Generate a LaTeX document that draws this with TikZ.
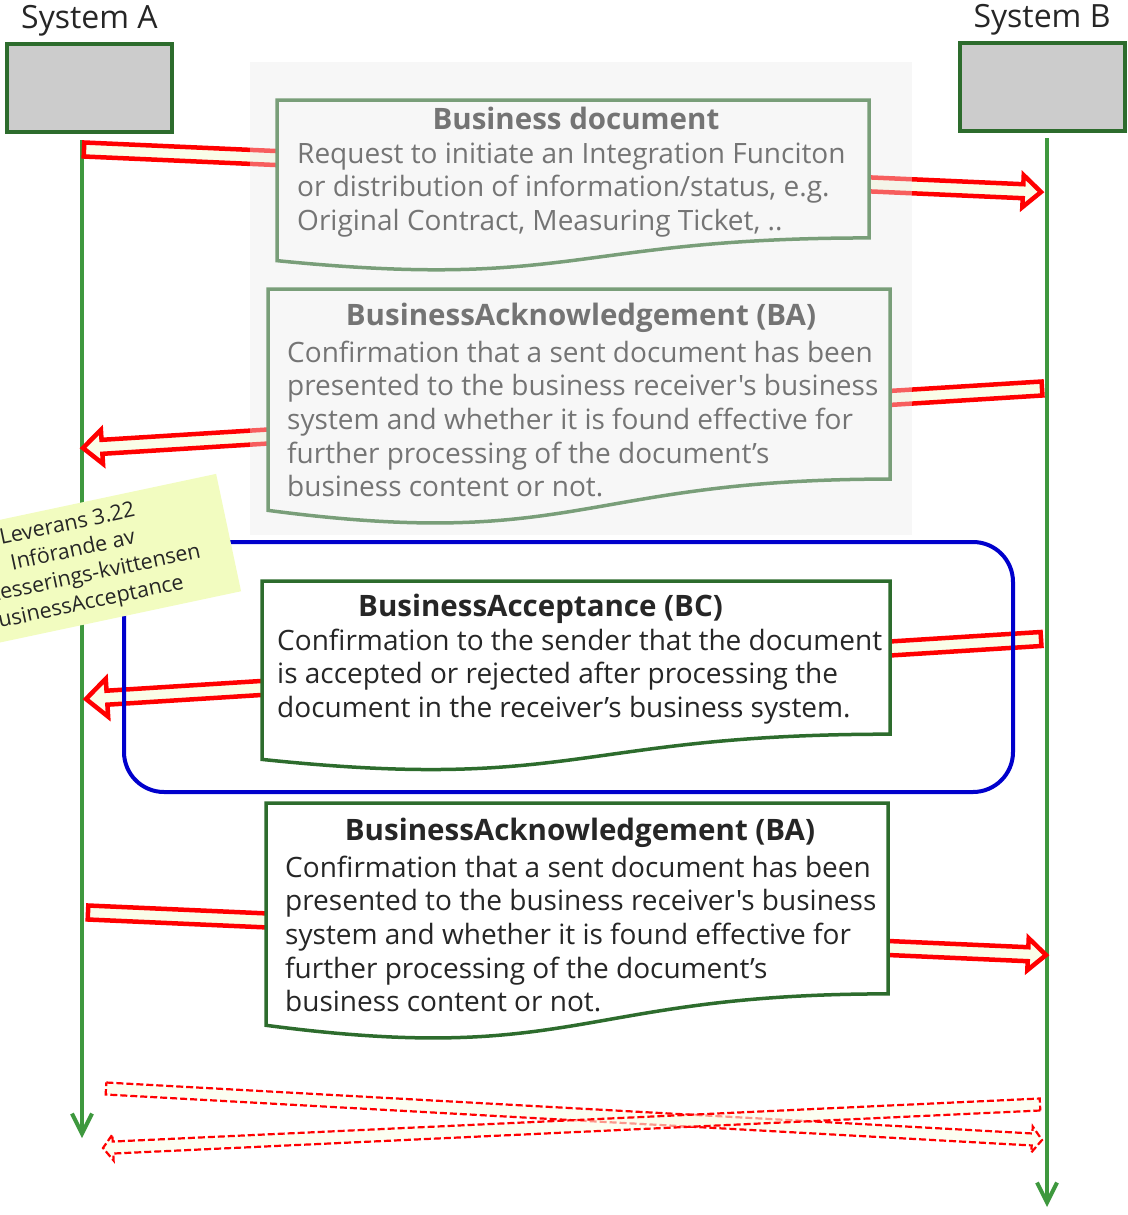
\documentclass[tikz,border=0pt]{standalone}
\usepackage{fontspec}
\setmainfont{Open Sans}[Ligatures=TeXOff]
\usetikzlibrary{calc,positioning,arrows.meta}
\definecolor{boxgreen}{RGB}{45,108,45}
\definecolor{lifegreen}{RGB}{62,152,62}
\definecolor{arrfill}{RGB}{250,253,232}
\definecolor{notefill}{RGB}{242,252,192}
\definecolor{txtdark}{RGB}{38,38,38}
\definecolor{bcblue}{RGB}{0,0,204}
\definecolor{panelgray}{RGB}{235,235,235}

\tikzset{
  sysbox/.style={draw=boxgreen, line width=4pt, fill=black!20, minimum width=165pt, minimum height=87pt},
  syslbl/.style={font=\fontsize{32}{38}\selectfont, text=txtdark, inner sep=0pt},
  lifeline/.style={draw=lifegreen, line width=3.5pt, arrows={-Straight Barb[length=20pt,width=20pt,line width=4pt]}},
  docbox/.style={draw=boxgreen, line width=3.5pt, fill=white},
  doctitle/.style={font=\fontsize{29.5}{34}\selectfont\bfseries, text=txtdark, inner sep=0pt},
  doctext/.style={font=\fontsize{28}{33.7}\selectfont, text=txtdark, inner sep=0pt, align=left},
  fatarr/.style={draw=red, line width=4.5pt, fill=arrfill, line join=miter},
  dasharr/.style={draw=red, line width=2.2pt, fill=arrfill, fill opacity=0.6, dash pattern=on 7pt off 3pt},
  notebox/.style={fill=notefill, minimum width=312pt, minimum height=120pt, align=center, text=txtdark,
    font=\fontsize{21.5}{27}\selectfont}
}

% #2 from, #3 to, #4 shaft half width, #5 head half width, #6 head length
\newcommand\fatarrow[6][fatarr]{%
  \coordinate (fa-b) at ($(#3)!#6!(#2)$);
  \draw[#1] ($(#2)!#4!90:(#3)$) -- ($(fa-b)!#4!90:(#3)$) -- ($(fa-b)!#5!90:(#3)$) -- (#3)
    -- ($(fa-b)!#5!-90:(#3)$) -- ($(fa-b)!#4!-90:(#3)$) -- ($(#2)!#4!-90:(#3)$) -- cycle;}

% flowchart document shape: top left (#2,#3), bottom right (#4,#5)
\newcommand\docshape[5][docbox]{%
  \draw[#1] (#2,#3) -- (#4,#3) -- (#4,{#3+0.802*(#5-#3)})
    .. controls ({(#2+#4)/2},{#3+0.802*(#5-#3)}) and ({(#2+#4)/2},{#3+1.107*(#5-#3)}) .. (#2,{#3+0.934*(#5-#3)}) -- cycle;}

\begin{document}
\begin{tikzpicture}[x=1pt, y=-1pt]
\useasboundingbox (0,0) rectangle (1127,1215);

\node[sysbox] (sysA) at (89.5,88) {};
\node[sysbox] (sysB) at (1042,87) {};
\node[syslbl, above=6pt of sysA] (lblA) {System A};
\node[syslbl, above=6pt of sysB] (lblB) {System B};

\coordinate (topA) at (82,140);
\coordinate (endA) at (82,1138);
\coordinate (topB) at (1047,138);
\coordinate (endB) at (1047,1207);
\draw[lifeline] (topA) -- (endA);
\draw[lifeline] (topB) -- (endB);

\coordinate (a1) at (84,149.5);
\coordinate (b1) at (1041,192);
\coordinate (b2) at (1042,388.5);
\coordinate (a2) at (83,448);
\fatarrow{a1}{b1}{7pt}{16pt}{18pt}
\fatarrow{b2}{a2}{7pt}{17pt}{19pt}

\docshape{277}{100}{869}{272}
\node[doctitle, anchor=base] (bdT) at (576,129) {Business document};
\node[doctext, anchor=base west] (bdX) at (297,230.4) {Request to initiate an Integration Funciton\\or distribution of information/status, e.g.\\Original Contract, Measuring Ticket, ..};

\docshape{268}{289}{890}{526}
\node[doctitle, anchor=base] (baT) at (581,325) {BusinessAcknowledgement (BA)};
\node[doctext, anchor=base west] (baX) at (287,496.8) {Confirmation that a sent document has been\\presented to the business receiver's business\\system and whether it is found effective for\\further processing of the document’s\\business content or not.};

\fill[panelgray, opacity=0.4] (250,62) rectangle (912,535);

\coordinate (b3) at (1041,639);
\coordinate (a3) at (86,699);
\fatarrow{b3}{a3}{7pt}{19pt}{21pt}

\draw[bcblue, line width=4pt, rounded corners=40pt] (124,542) rectangle (1013,792);

\docshape{262}{581}{890}{772}
\node[doctitle, anchor=base west] (bcT) at (358,616) {BusinessAcceptance (BC)};
\node[doctext, anchor=base west] (bcX) at (277,717.4) {Confirmation to the sender that the document\\is accepted or rejected after processing the\\document in the receiver’s business system.};

\coordinate (a4) at (88,912.5);
\coordinate (b4) at (1046,955);
\fatarrow{a4}{b4}{7pt}{16pt}{18pt}

\docshape{266}{803}{888}{1041}
\node[doctitle, anchor=base] (ba2T) at (580,840) {BusinessAcknowledgement (BA)};
\node[doctext, anchor=base west] (ba2X) at (285,1011.8) {Confirmation that a sent document has been\\presented to the business receiver's business\\system and whether it is found effective for\\further processing of the document’s\\business content or not.};

\coordinate (a5) at (106,1088.5);
\coordinate (b5) at (1042,1140);
\coordinate (b6) at (1040,1104.5);
\coordinate (a6) at (103,1148);
\fatarrow[dasharr]{a5}{b5}{6pt}{13pt}{10pt}
\fatarrow[dasharr]{b6}{a6}{6pt}{13pt}{10pt}

\node[notebox, rotate=12] (note) at (76,565) {Leverans 3.22\\Införande av\\Processerings-kvittensen\\BusinessAcceptance};
\end{tikzpicture}
\end{document}
